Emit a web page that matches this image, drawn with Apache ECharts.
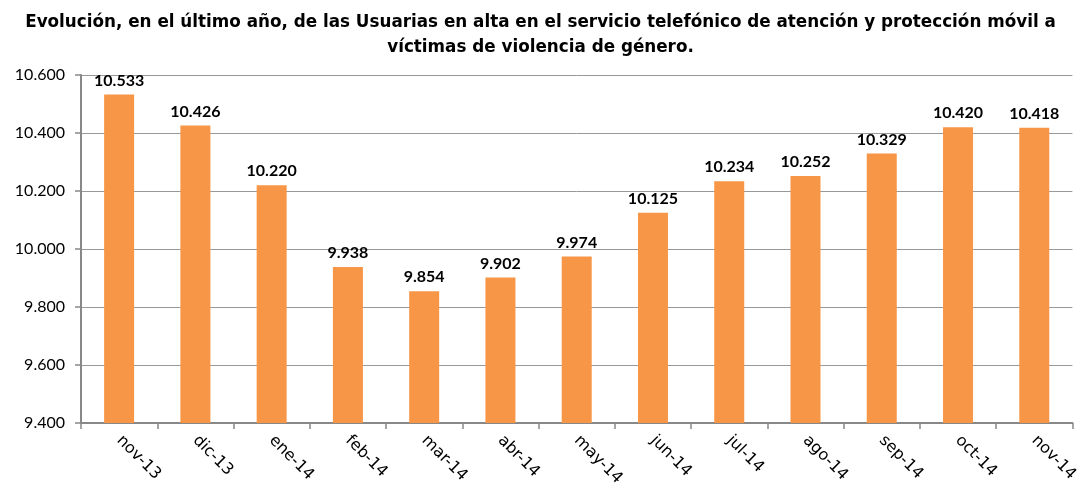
<!DOCTYPE html>
<html>
<head>
<meta charset="utf-8">
<script src="https://cdn.jsdelivr.net/npm/echarts@6/dist/echarts.min.js"></script>
<style>
  html, body { margin: 0; padding: 0; background: #fff; }
  #chart { width: 1081px; height: 491px; }
</style>
</head>
<body>
<div id="chart"></div>
<script>
var months = ['nov-13', 'dic-13', 'ene-14', 'feb-14', 'mar-14', 'abr-14', 'may-14',
  'jun-14', 'jul-14', 'ago-14', 'sep-14', 'oct-14', 'nov-14']
var usuarias = [10533, 10426, 10220, 9938, 9854, 9902, 9974, 10125, 10234, 10252, 10329, 10420, 10418]

// miles con punto: 10533 -> 10.533
function fmt(v) {
  return String(v).replace(/\B(?=(\d{3})+(?!\d))/g, '.')
}

var myChart = echarts.init(document.getElementById('chart'))
var option = {
  animation: false,
  title: {
    text: 'Evolución, en el último año, de las Usuarias en alta en el servicio telefónico de atención y protección móvil a\nvíctimas de violencia de género.',
    left: 'center',
    top: 5,
    textStyle: {
      fontFamily: 'DejaVu Sans',
      fontSize: 16.8,
      fontWeight: 'bold',
      color: '#000',
      lineHeight: 25,
      align: 'center'
    }
  },
  grid: { left: 81, right: 8, top: 75, bottom: 68 },
  xAxis: {
    type: 'category',
    data: months,
    axisLine: { lineStyle: { color: '#888', width: 2 } },
    axisTick: { show: true, length: 6, lineStyle: { color: '#888', width: 1.5 } },
    axisLabel: {
      rotate: -45,
      margin: 15,
      fontFamily: 'DejaVu Sans',
      fontSize: 16,
      color: '#000'
    }
  },
  yAxis: {
    type: 'value',
    min: 9400,
    max: 10600,
    interval: 200,
    axisLine: { show: true, lineStyle: { color: '#888', width: 2 } },
    axisTick: { show: true, length: 6, lineStyle: { color: '#888', width: 1.5 } },
    splitLine: { lineStyle: { color: '#999', width: 1 } },
    axisLabel: {
      margin: 16,
      fontFamily: 'Lato',
      fontSize: 16,
      color: '#000',
      formatter: fmt
    }
  },
  series: [{
    type: 'bar',
    data: usuarias,
    barWidth: 30,
    itemStyle: { color: '#F79646' },
    label: {
      show: true,
      position: 'top',
      distance: 6,
      fontFamily: 'Lato',
      fontSize: 16,
      fontWeight: 'bold',
      color: '#000',
      formatter: function (p) { return fmt(p.value) }
    }
  }]
}
option && myChart.setOption(option)
</script>
</body>
</html>
